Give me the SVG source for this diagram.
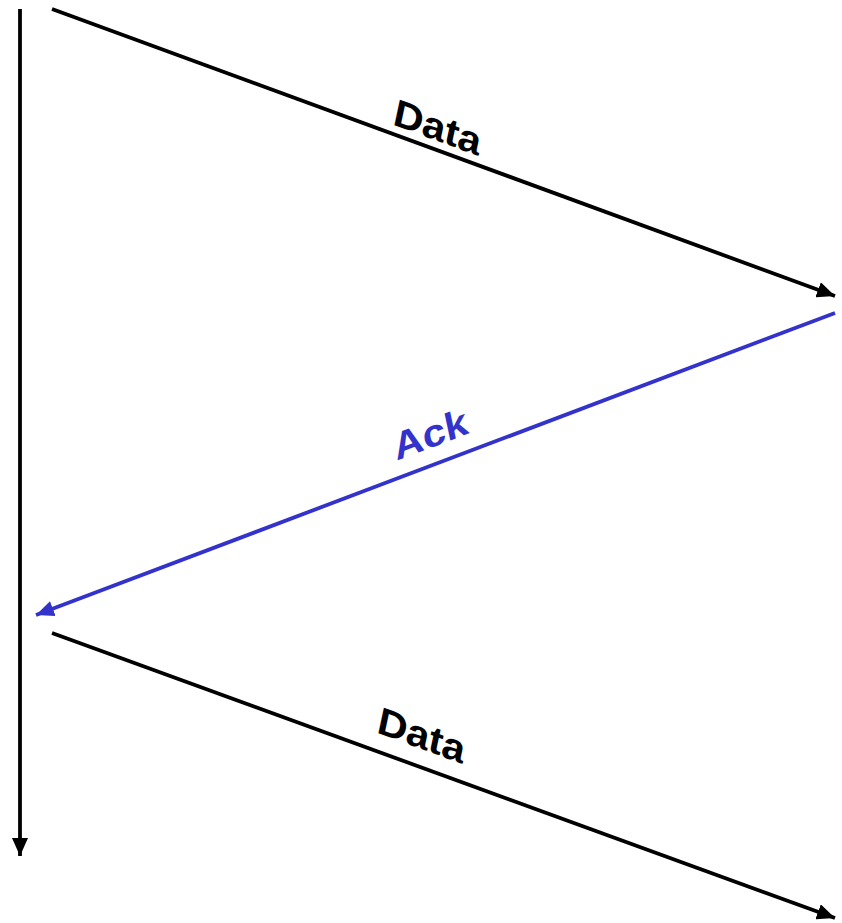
<svg xmlns="http://www.w3.org/2000/svg" width="842" height="923" viewBox="0 0 842 923">
<style>
.k{stroke:#000;stroke-width:3.8;fill:none}
.b{stroke:#3333cc;stroke-width:3.8;fill:none}
.t{font-family:"Liberation Sans",Arial,sans-serif;font-weight:bold;font-size:38px;text-anchor:middle}
</style>
<defs>
<marker id="ak" markerUnits="userSpaceOnUse" markerWidth="19" markerHeight="16" refX="18" refY="8" orient="auto" viewBox="0 0 19 16"><path d="M0,0 L18,8 L0,16 Z" fill="#000"/></marker>
<marker id="ab" markerUnits="userSpaceOnUse" markerWidth="19" markerHeight="16" refX="18" refY="8" orient="auto" viewBox="0 0 19 16"><path d="M0,0 L18,8 L0,16 Z" fill="#3333cc"/></marker>
</defs>
<g id="connectors">
<line id="timeline" class="k" x1="20" y1="9" x2="20" y2="856" marker-end="url(#ak)"/>
<line id="data1" class="k" x1="52" y1="9" x2="835" y2="296" marker-end="url(#ak)"/>
<line id="ack" class="b" x1="835" y1="313" x2="36" y2="615" marker-end="url(#ab)"/>
<line id="data2" class="k" x1="52" y1="633" x2="835" y2="918" marker-end="url(#ak)"/>
</g>
<g id="label-data1"><text class="t" fill="#000" transform="matrix(1.0525 0.3831 -0.2079 0.9781 435 140)">Data</text></g>
<g id="label-ack"><text class="t" fill="#3333cc" transform="matrix(1.0478 -0.3960 0.2079 0.9781 433 447)">Ack</text></g>
<g id="label-data2"><text class="t" fill="#000" transform="matrix(1.0525 0.3831 -0.2079 0.9781 419 748)">Data</text></g>
</svg>
